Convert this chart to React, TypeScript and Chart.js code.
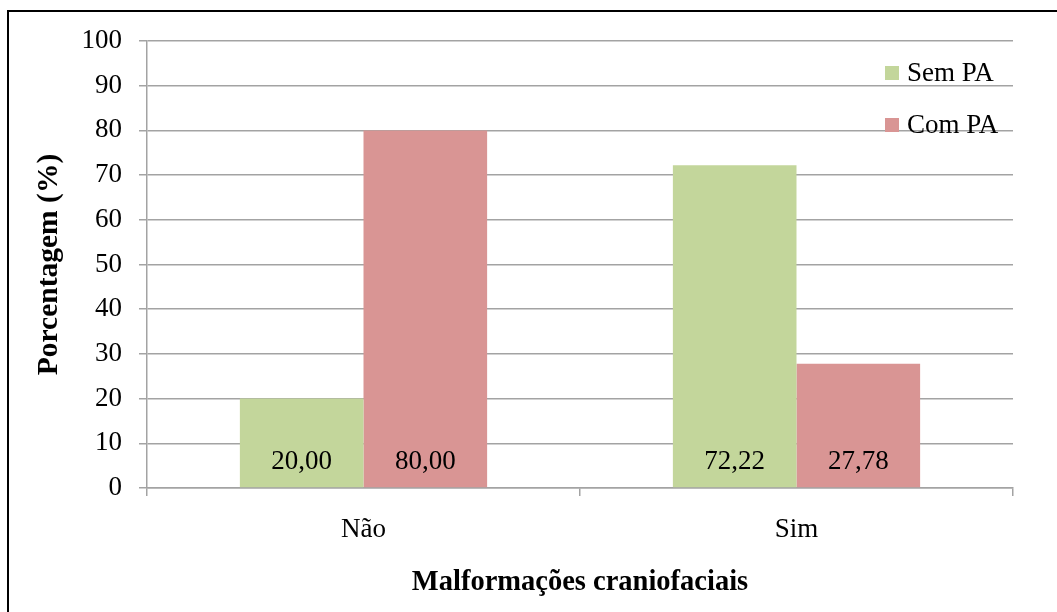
import React, { useEffect, useRef } from "react";
import { Chart, registerables } from "chart.js";

Chart.register(...registerables);

const categories = ["Não", "Sim"];
const semPA = [20.0, 72.22];
const comPA = [80.0, 27.78];
const seriesLabels = ["Sem PA", "Com PA"];
const yTicks = [0, 10, 20, 30, 40, 50, 60, 70, 80, 90, 100];

const FONT = "'Liberation Serif', 'Times New Roman', serif";
const GREEN = "#C3D69B";
const RED = "#D99594";
const GRID = "#a3a3a3";

const valueLabels = {
  id: "valueLabels",
  afterDatasetsDraw(chart: any) {
    const ctx = chart.ctx;
    const yScale = chart.scales.y;
    const base = yScale.getPixelForValue(0);
    ctx.save();
    ctx.font = `27px ${FONT}`;
    ctx.fillStyle = "#000";
    ctx.textAlign = "center";
    ctx.textBaseline = "middle";
    chart.data.datasets.forEach((ds: any, di: number) => {
      const meta = chart.getDatasetMeta(di);
      meta.data.forEach((bar: any, i: number) => {
        const v = ds.data[i] as number;
        ctx.fillText(v.toFixed(2).replace(".", ","), bar.x, base - 26);
      });
    });
    ctx.restore();
  },
};

const insideLegend = {
  id: "insideLegend",
  afterDraw(chart: any) {
    const ctx = chart.ctx;
    const area = chart.chartArea;
    ctx.save();
    ctx.font = `27px ${FONT}`;
    ctx.textAlign = "left";
    ctx.textBaseline = "middle";
    chart.data.datasets.forEach((ds: any, i: number) => {
      const cy = area.top + 32 + i * 52;
      const sx = area.right - 128;
      ctx.fillStyle = ds.backgroundColor;
      ctx.fillRect(sx, cy - 7, 14, 14);
      ctx.fillStyle = "#000";
      ctx.fillText(ds.label, sx + 22, cy + 1);
    });
    ctx.restore();
  },
};

export default function App() {
  const ref = useRef<HTMLCanvasElement | null>(null);

  useEffect(() => {
    if (!ref.current) return;
    const chart = new Chart(ref.current, {
      type: "bar",
      data: {
        labels: categories,
        datasets: [
          {
            label: seriesLabels[0],
            data: semPA,
            backgroundColor: GREEN,
            borderWidth: 0,
            categoryPercentage: 0.571,
            barPercentage: 1,
          },
          {
            label: seriesLabels[1],
            data: comPA,
            backgroundColor: RED,
            borderWidth: 0,
            categoryPercentage: 0.571,
            barPercentage: 1,
          },
        ],
      },
      options: {
        responsive: false,
        animation: false,
        layout: { padding: { left: 0, right: 44, top: 41, bottom: 0 } },
        plugins: {
          legend: { display: false },
          tooltip: { enabled: false },
          title: { display: false },
        },
        scales: {
          x: {
            grid: {
              display: true,
              drawOnChartArea: false,
              drawTicks: true,
              tickLength: 8,
              offset: true,
              color: GRID,
              lineWidth: 1.5,
            },
            border: { display: true, color: GRID, width: 1.5 },
            ticks: {
              color: "#000",
              font: { family: FONT, size: 27 },
              padding: 18,
            },
            title: {
              display: true,
              text: "Malformações craniofaciais",
              color: "#000",
              font: { family: FONT, size: 28.5, weight: "bold" },
              padding: { top: 0, bottom: 12 },
            },
            afterFit(scale: any) {
              scale.height = 124;
            },
          },
          y: {
            min: 0,
            max: 100,
            afterBuildTicks(scale: any) {
              scale.ticks = yTicks.map((v) => ({ value: v }));
            },
            grid: {
              color: GRID,
              lineWidth: 1.5,
              tickLength: 8,
            },
            border: { display: true, color: GRID, width: 1.5 },
            ticks: {
              color: "#000",
              font: { family: FONT, size: 27 },
              padding: 17,
            },
            title: {
              display: true,
              text: "Porcentagem (%)",
              color: "#000",
              font: { family: FONT, size: 29.5, weight: "bold" },
              padding: { top: 32, bottom: 0 },
            },
            afterFit(scale: any) {
              scale.width = 147;
            },
          },
        },
      },
      plugins: [valueLabels, insideLegend],
    });
    return () => chart.destroy();
  }, []);

  return (
    <div style={{ position: "fixed", left: 0, top: 0, width: 1057, height: 612, background: "#fff", overflow: "hidden" }}>
      <canvas ref={ref} width={1057} height={612} style={{ position: "absolute", left: 0, top: 0, width: 1057, height: 612 }} />
      <div
        style={{
          position: "absolute",
          left: 7,
          top: 10,
          width: 1200,
          height: 800,
          borderTop: "2px solid #000",
          borderLeft: "2px solid #000",
          pointerEvents: "none",
        }}
      />
    </div>
  );
}
